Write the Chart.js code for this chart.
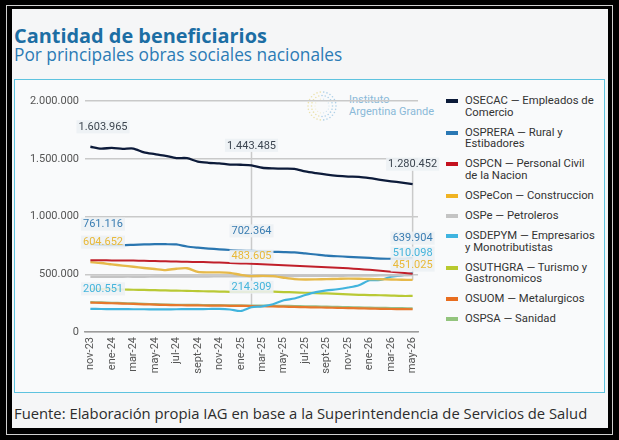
<!DOCTYPE html>
<html>
<head>
<meta charset="utf-8">
<script src="https://cdn.jsdelivr.net/npm/chart.js@4.4.1/dist/chart.umd.min.js"></script>
<style>
  html,body{margin:0;padding:0;}
  body{width:619px;height:440px;background:#000;overflow:hidden;position:relative;font-family:'Open Sans',sans-serif;}
  .abs{position:absolute;}
  #frame{left:6px;top:5px;width:607px;height:430px;border:1px solid #d0d0d0;box-sizing:border-box;}
  #panel{left:12px;top:9px;width:596px;height:419px;background:#f5f6f7;}
  #title{left:14px;top:25.8px;font-weight:700;font-size:19.9px;line-height:1;color:#1c6ea4;white-space:nowrap;}
  #subtitle{left:14px;top:46.4px;font-size:17.3px;line-height:1;color:#2b7bb5;white-space:nowrap;}
  #box{left:14px;top:79px;width:591px;height:314px;border:1.5px solid #5ec3df;box-sizing:border-box;background:#f9fafb;}
  #chartWrap{left:14px;top:80px;width:432px;height:312px;}
  #footer{left:14px;top:406.2px;font-size:14.8px;line-height:1;color:#2d2d2d;white-space:nowrap;}
  #legend{left:446px;top:94.8px;width:150px;font-family:Roboto,sans-serif;font-size:11.3px;line-height:11.7px;color:#333;}
  .item{position:relative;padding-left:19px;margin-bottom:8.3px;width:132px;}
  .mk{position:absolute;left:0;top:4px;width:12px;height:4px;}
  #wmText{left:349px;top:94px;font-family:Roboto,sans-serif;font-size:11px;line-height:12px;color:#8ab9d8;white-space:nowrap;}
  #ring{left:305px;top:89px;}
</style>
</head>
<body>
<div id="frame" class="abs"></div>
<div id="panel" class="abs"></div>
<div id="title" class="abs">Cantidad de beneficiarios</div>
<div id="subtitle" class="abs">Por principales obras sociales nacionales</div>
<div id="box" class="abs"></div>
<svg id="ring" class="abs" width="34" height="34" viewBox="0 0 34 34"></svg>
<div id="wmText" class="abs">Instituto<br>Argentina Grande</div>
<div id="chartWrap" class="abs"><canvas id="c"></canvas></div>
<div id="legend" class="abs"></div>
<div id="footer" class="abs">Fuente: Elaboración propia IAG en base a la Superintendencia de Servicios de Salud</div>

<script>
// ---------- DATA ----------
const months = ['nov-23','dic-23','ene-24','feb-24','mar-24','abr-24','may-24','jun-24','jul-24','ago-24','sept-24','oct-24','nov-24','dic-24','ene-25','feb-25','mar-25','abr-25','may-25','jun-25','jul-25','ago-25','sept-25','oct-25','nov-25','dic-25','ene-26','feb-26','mar-26','abr-26','may-26'];

const seriesNames = [
  'OSECAC — Empleados de Comercio',
  'OSPRERA — Rural y Estibadores',
  'OSPCN — Personal Civil de la Nacion',
  'OSPeCon — Construccion',
  'OSPe — Petroleros',
  'OSDEPYM — Empresarios y Monotributistas',
  'OSUTHGRA — Turismo y Gastronomicos',
  'OSUOM — Metalurgicos',
  'OSPSA — Sanidad'
];

const OSECAC = [1603965,1588000,1594000,1586000,1588000,1555000,1540000,1525000,1506000,1505000,1475000,1465000,1460000,1450000,1448000,1443485,1422000,1416000,1414000,1412000,1390000,1375000,1362000,1352000,1346000,1343000,1332000,1318000,1305000,1293000,1280452];
const OSPRERA = [761116,755000,752000,752000,755000,758000,760000,760000,758000,740000,730000,722000,716000,710000,705000,702364,698000,694000,692000,689000,680000,671000,662000,656000,651000,646000,641000,636000,634000,633000,639904];
const OSPCN = [622000,621000,620000,619000,618000,616000,614000,612000,610000,608000,606000,604000,601000,598000,594000,590000,586000,582000,578000,574000,570000,566000,561000,556000,551000,545000,538000,530000,522000,513000,505000];
const OSPeCon = [604652,597000,585000,575000,565000,554000,545000,536000,548000,552000,520000,516000,516000,512000,495000,483605,486000,484000,470000,458000,455000,456000,458000,460000,462000,461000,459000,457000,455000,452000,451025];
const OSPe = [478000,478000,478000,479000,479000,479000,480000,480000,480000,481000,481000,481000,482000,482000,483000,483000,484000,484000,485000,485000,486000,486000,487000,487000,488000,489000,489000,490000,491000,491000,492000];
const OSDEPYM = [200551,199000,198000,198000,197000,197000,196000,196000,197000,198000,198000,199000,200000,195000,182000,214309,222000,240000,275000,290000,320000,345000,360000,370000,385000,405000,448000,450000,478000,490000,510098];
const OSUTHGRA = [372000,372000,370000,368000,366000,364000,362000,360000,358000,356000,354000,352000,350000,348000,347000,348000,350000,349000,346000,343000,340000,336000,334000,330000,326000,322000,320000,318000,315000,312000,312000];
const OSUOM = [254000,252000,249000,246000,243000,240000,237000,234000,232000,231000,230000,229000,228000,227000,226000,225000,223000,221000,219000,217000,215000,213000,211000,209000,207000,205000,203000,201000,199000,198000,197000];
const OSPSA = [258000,256000,253000,250000,247000,244000,241000,238000,236000,235000,234000,233000,232000,231000,230000,229000,228000,227000,226000,225000,223000,221000,219000,217000,215000,213000,211000,209000,208000,206000,205000];

const yTicks = [0, 500000, 1000000, 1500000, 2000000];

// annotated points (which series / which months)
const annotSeries = [0, 1, 3, 5];
const annotMonths = [0, 15, 30];
const markerMonths = [15, 30];

// ---------- STYLE ----------
const lineColors = ['#0d1b3a','#2a76b0','#c01f2a','#e6b94a','#c4c4c4','#41b4dd','#b9c935','#e6782c','#95c08a'];
const legendColors = ['#0b1a38','#2a78b4','#c4121f','#f0b323','#c4c4c4','#3fb4e0','#b8c92e','#e86d1f','#93c47d'];
const labelColors = {0:'#3d4651',1:'#3a7db2',3:'#e9b938',5:'#45b5dc'};
const lineWidths = [2.3,2.2,2,2.4,2.4,2.2,2.2,2.2,2.2];

const allData = [OSECAC,OSPRERA,OSPCN,OSPeCon,OSPe,OSDEPYM,OSUTHGRA,OSUOM,OSPSA];

const fmt = v => String(Math.round(v)).replace(/\B(?=(\d{3})+(?!\d))/g, '.');

// ---------- LEGEND ----------
const legend = document.getElementById('legend');
seriesNames.forEach((n,i)=>{
  const d = document.createElement('div'); d.className='item';
  const m = document.createElement('div'); m.className='mk'; m.style.background = legendColors[i];
  d.appendChild(m); d.appendChild(document.createTextNode(n));
  legend.appendChild(d);
});

// ---------- WATERMARK RING ----------
(function(){
  const svg = document.getElementById('ring');
  const ns='http://www.w3.org/2000/svg';
  const rings=[[14,26],[10.5,20],[7,14]];
  rings.forEach(([r,n],k)=>{
    for(let j=0;j<n;j++){
      const a = j/n*Math.PI*2;
      const c = document.createElementNS(ns,'circle');
      c.setAttribute('cx', 17+ r*Math.cos(a));
      c.setAttribute('cy', 17+ r*Math.sin(a));
      c.setAttribute('r', k===2?0.6:0.8);
      const t = (Math.cos(a)+1)/2;
      c.setAttribute('fill', t<0.45 ? '#e3d27a' : '#7fb6dc');
      c.setAttribute('opacity', k===2?0.35:0.6);
      svg.appendChild(c);
    }
  });
})();

// ---------- ANNOTATION PLUGIN ----------
function annotLayout(chart){
  const ctx = chart.ctx; const area = chart.chartArea;
  ctx.save(); ctx.font = '11px Roboto';
  const out = [];
  annotMonths.forEach(mi=>{
    const items = annotSeries.map(si=>{
      const meta = chart.getDatasetMeta(si);
      const p = meta.data[mi];
      const txt = fmt(allData[si][mi]);
      const w = ctx.measureText(txt).width;
      let cx = Math.max(p.x, area.left + 18);
      return {si, mi, px:p.x, py:p.y, cx, cy:p.y-20, txt, w};
    });
    items.sort((a,b)=>a.cy-b.cy);
    for(let k=1;k<items.length;k++){
      if(items[k].cy < items[k-1].cy + 12) items[k].cy = items[k-1].cy + 12;
    }
    out.push({mi, items});
  });
  ctx.restore();
  return out;
}
const annotPlugin = {
  id:'annot',
  beforeDatasetsDraw(chart){
    const ctx = chart.ctx;
    const lay = annotLayout(chart);
    ctx.save();
    ctx.strokeStyle = '#cacaca'; ctx.lineWidth = 1.5;
    lay.forEach(g=>{
      if(!markerMonths.includes(g.mi)) return;
      const top = Math.min(...g.items.map(i=>i.cy)) + 6.5;
      const bottom = Math.max(...g.items.map(i=>i.py));
      const x = g.items[0].px;
      ctx.beginPath(); ctx.moveTo(x, top); ctx.lineTo(x, bottom); ctx.stroke();
    });
    ctx.restore();
  },
  afterDatasetsDraw(chart){
    const ctx = chart.ctx;
    const lay = annotLayout(chart);
    ctx.save();
    ctx.font = '11px Roboto'; ctx.textAlign='center'; ctx.textBaseline='middle';
    lay.forEach(g=>g.items.forEach(it=>{
      ctx.fillStyle = 'rgba(236,240,244,0.88)';
      ctx.fillRect(it.cx - it.w/2 - 2, it.cy - 6.5, it.w + 4, 13);
      ctx.fillStyle = labelColors[it.si];
      ctx.fillText(it.txt, it.cx, it.cy + 0.5);
    }));
    ctx.restore();
  }
};

// ---------- CHART ----------
const datasets = allData.map((d,i)=>({
  label: seriesNames[i], data: d, borderColor: lineColors[i], backgroundColor: lineColors[i],
  borderWidth: lineWidths[i], pointRadius: 0, tension: 0.25, fill:false
}));
datasets.forEach((d,i)=>{ d.order = i; });

new Chart(document.getElementById('c'), {
  type:'line',
  data:{labels: months, datasets},
  options:{
    responsive:true, maintainAspectRatio:false, animation:false,
    layout:{padding:{top:21,right:28,left:0,bottom:0}},
    plugins:{legend:{display:false}, tooltip:{enabled:false}},
    scales:{
      x:{
        offset:true,
        grid:{display:false, drawTicks:false},
        border:{display:true, color:'#9c9c9c', width:1.5},
        ticks:{autoSkip:false, minRotation:90, maxRotation:90, padding:5, color:'#555',
          font:{family:'Roboto', size:11},
          callback:(v,i)=> i%2===0 ? months[i] : ''},
        afterFit:s=>{ s.height = 60; }
      },
      y:{
        min:0, max:2000000,
        afterBuildTicks:s=>{ s.ticks = yTicks.map(v=>({value:v})); },
        ticks:{color:'#555', padding:6, font:{family:'Roboto', size:11}, callback:v=>fmt(v)},
        grid:{color:'#c9c9c9', lineWidth:1.5, drawTicks:false},
        border:{display:false},
        afterFit:s=>{ s.width = 71; }
      }
    }
  },
  plugins:[annotPlugin]
});
</script>
</body>
</html>
